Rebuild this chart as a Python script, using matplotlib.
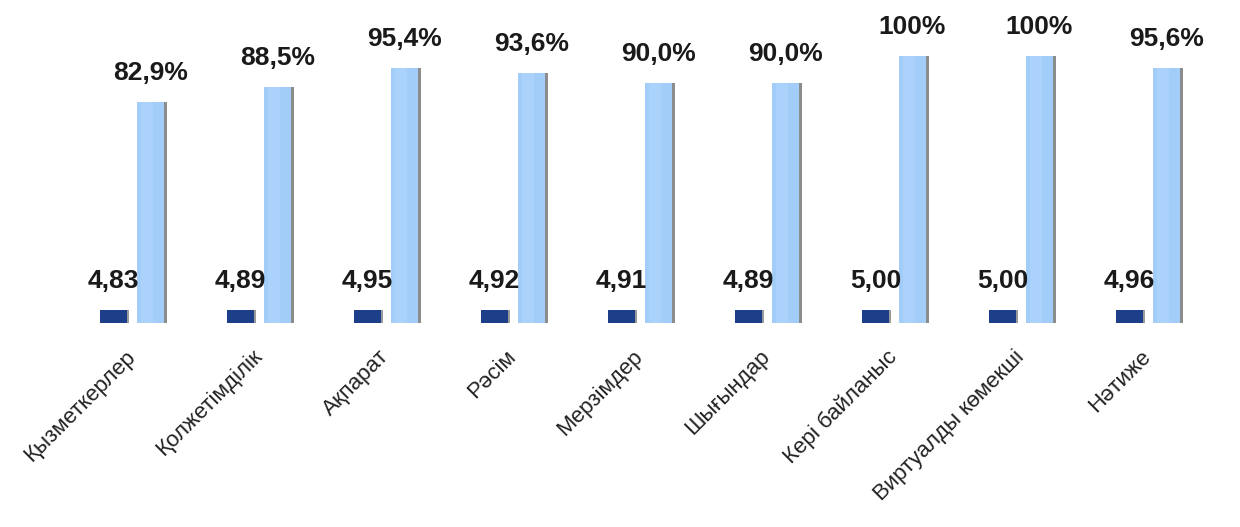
import matplotlib
matplotlib.use("Agg")
from matplotlib import pyplot as plt
import numpy as np

categories = ["Қызметкерлер", "Қолжетімділік", "Ақпарат", "Рәсім", "Мерзімдер",
              "Шығындар", "Кері байланыс", "Виртуалды көмекші", "Нәтиже"]
scores = [4.83, 4.89, 4.95, 4.92, 4.91, 4.89, 5.00, 5.00, 4.96]
percents = [82.9, 88.5, 95.4, 93.6, 90.0, 90.0, 100, 100, 95.6]
score_labels = ["4,83", "4,89", "4,95", "4,92", "4,91", "4,89", "5,00", "5,00", "4,96"]
percent_labels = ["82,9%", "88,5%", "95,4%", "93,6%", "90,0%", "90,0%", "100%", "100%", "95,6%"]

plt.rcParams['font.family'] = ['Liberation Sans', 'DejaVu Sans']

fig = plt.figure(figsize=(12.4, 5.27), dpi=100)
ax = fig.add_axes([68.5 / 1240, 204 / 527, 1143 / 1240, 0.507 * 1.1])
ax.set_xlim(-0.5, 8.5)
ax.set_ylim(0, 110)

x = np.arange(len(categories))
w = 0.21
off = 0.145

# thin grey shadows on the right side of the bars
ax.bar(x - off + 0.02, scores, w, color='#9a9a9a', zorder=1)
ax.bar(x + off + 0.025, percents, w, color='#8c8c8c', zorder=1)

ax.bar(x - off, scores, w, color='#1d3f8a', zorder=2)
ax.bar(x + off, percents, w, color='#a3cdf9', zorder=2)
# soft highlight on the light bars
ax.bar(x + off - 0.03, percents, w * 0.45, color='#abd2fa', zorder=3)

for i in range(len(categories)):
    ax.annotate(score_labels[i], (x[i] - off, scores[i]), xytext=(0, 12),
                textcoords='offset points', ha='center', va='bottom',
                fontsize=19, fontweight='bold', color='#1a1a1a')
    ax.annotate(percent_labels[i], (x[i] + off, percents[i]), xytext=(0, 12),
                textcoords='offset points', ha='center', va='bottom',
                fontsize=19, fontweight='bold', color='#1a1a1a')

ax.set_xticks(x)
ax.set_xticklabels(categories, rotation=45, ha='right', va='center',
                   rotation_mode='anchor', fontsize=16, color='#222222')
ax.tick_params(axis='x', length=0, pad=22)
ax.set_yticks([])
for s in ax.spines.values():
    s.set_visible(False)

plt.savefig("out.png", dpi=100)
